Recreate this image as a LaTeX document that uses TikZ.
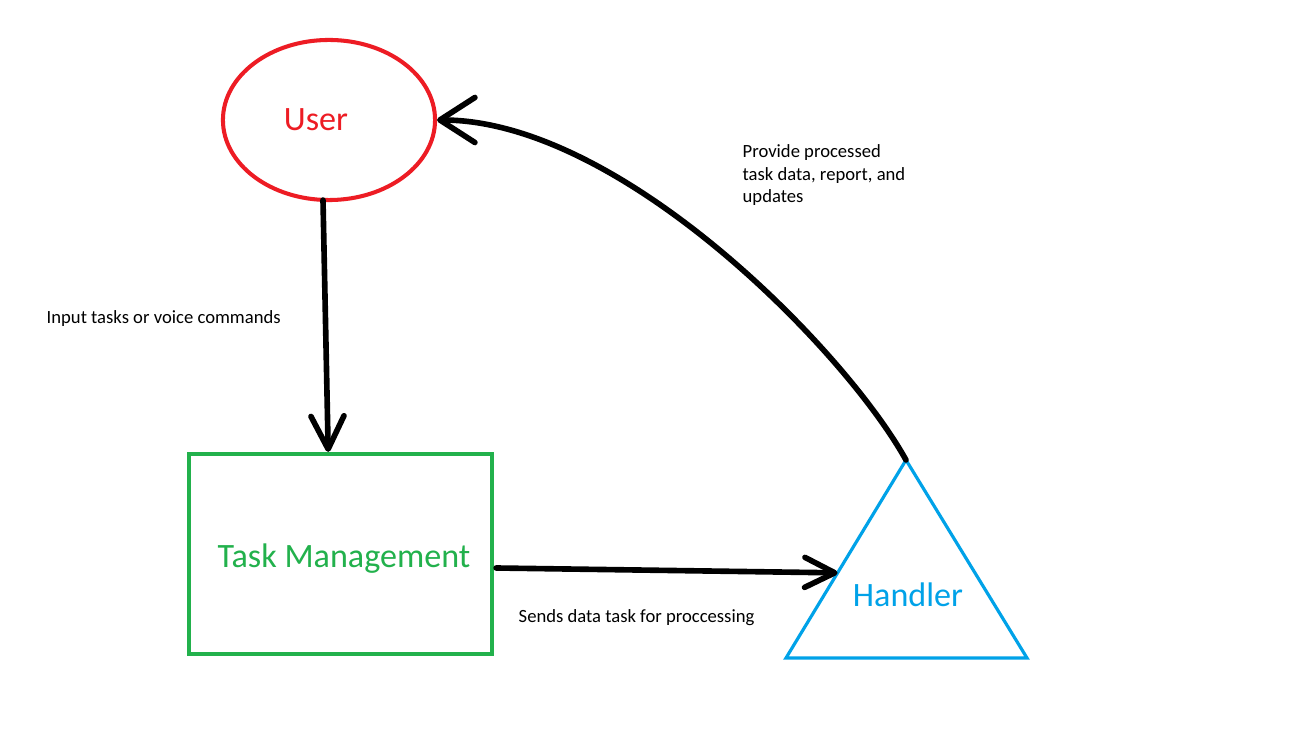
\documentclass[tikz,border=0pt]{standalone}
\usepackage{fontspec}
\setmainfont{Carlito}
\usetikzlibrary{shapes.geometric,arrows.meta,calc}
\definecolor{ured}{HTML}{ED1C24}
\definecolor{tgreen}{HTML}{22B14C}
\definecolor{hblue}{HTML}{00A2E8}
\tikzset{
  bigtext/.style={font=\fontsize{9.7}{11}\selectfont, inner sep=0pt, anchor=base},
  smalltext/.style={font=\fontsize{5.3}{6.4}\selectfont, inner sep=0pt, anchor=base west, align=left},
  conn/.style={draw=black, line width=1.6pt, line cap=round},
}
\begin{document}
\begin{tikzpicture}[x=0.01cm,y=-0.01cm]
\useasboundingbox[fill=white] (0,0) rectangle (1311,755);
% User
\node[ellipse, draw=ured, line width=1.15pt, minimum width=2.12cm, minimum height=1.6cm, inner sep=0pt] (user) at (329,120) {};
\node[bigtext, text=ured] (userlbl) at (316,131) {User};
% Task Management
\node[rectangle, draw=tgreen, line width=1.15pt, minimum width=3.03cm, minimum height=2.0cm, inner sep=0pt] (task) at (340.5,554) {};
\node[bigtext, text=tgreen] (tasklbl) at (344,568) {Task Management};
% Handler triangle
\coordinate (hA) at (906,460);
\coordinate (hL) at (786,658);
\coordinate (hR) at (1027,658);
\draw[hblue, line width=0.9pt, line join=miter] (hA) -- (hL) -- (hR) -- cycle;
\node[bigtext, text=hblue] (handlerlbl) at (908,607) {Handler};
% connectors
\draw[conn, -{Straight Barb[round,length=3.3mm,width=3.3mm]}]
  ($(user.south)+(-6,-2)$) -- ($(task.north west)!0.46!(task.north east)$);
\draw[conn, -{Straight Barb[round,length=3mm,width=3mm]}]
  ($(task.east)+(2,14)$) -- ($(hA)!0.57!(hL)$);
\draw[conn, -{Straight Barb[round,length=3.5mm,width=4.5mm]}]
  (hA) .. controls (845,350) and (620,120) .. (user.east);
% labels
\node[smalltext] (lbl1) at (46,324) {Input tasks or voice commands};
\node[smalltext] (lbl2) at (518,623) {Sends data task for proccessing};
\node[smalltext] (lbl3) at (742,203) {Provide processed\\task data, report, and\\updates};
\end{tikzpicture}
\end{document}
